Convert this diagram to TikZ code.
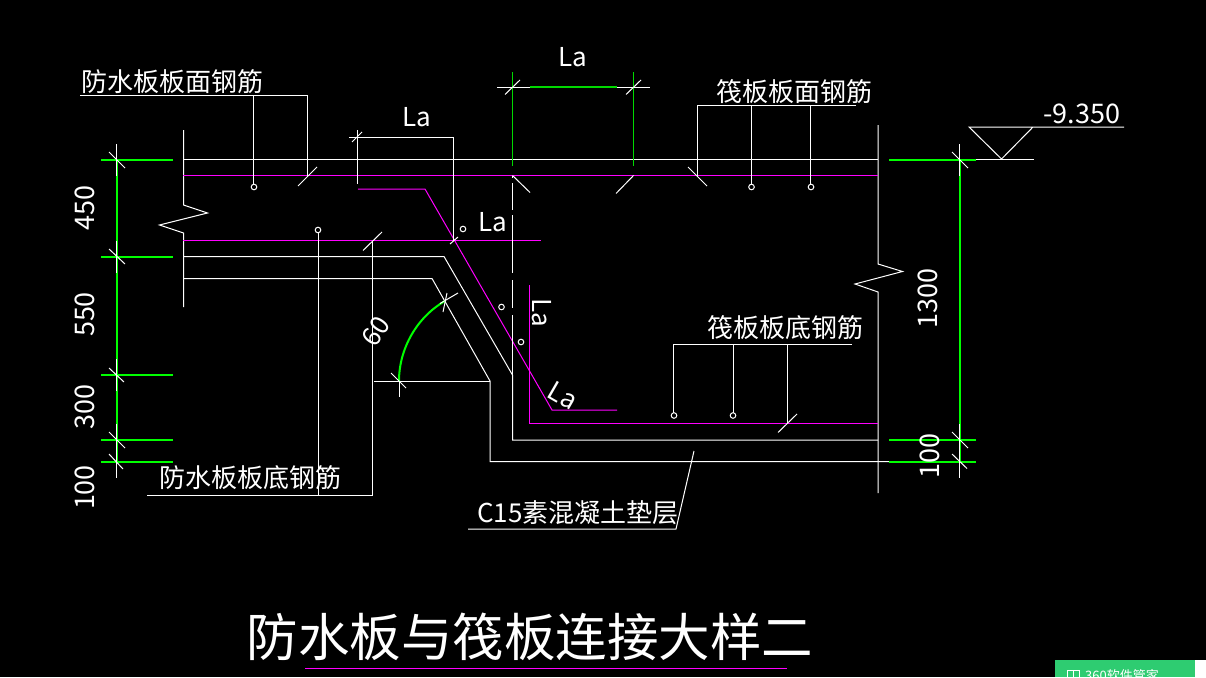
\documentclass[tikz,border=0pt]{standalone}
\usepackage{fontspec}
\setmainfont{Noto Sans CJK SC}
\definecolor{cadmagenta}{RGB}{255,0,255}
\definecolor{cadgreen}{RGB}{0,255,0}
\definecolor{badgegreen}{RGB}{46,204,113}
\begin{document}
\begin{tikzpicture}[x=1pt, y=-1pt,
    cadline/.style={draw=white, line width=1pt},
    rebar/.style={draw=cadmagenta, line width=1pt},
    dimgreen/.style={draw=cadgreen, line width=2pt},
    thingreen/.style={draw=cadgreen!85!black, line width=1.2pt},
    cadtext/.style={text=white, inner sep=0pt, font=\fontsize{26}{26}\selectfont},
    bartext/.style={cadtext, font=\fontsize{27}{27}\selectfont}]
      \useasboundingbox (0,0) rectangle (1206,677);
      \fill[black] (0,0) rectangle (1206,677);

      % Raft and waterproof slab outline
      \draw[cadline] (183.5,130) -- (183.5,205) -- (207.5,213) -- (159.5,225) -- (183.5,233) -- (183.5,307);
      \draw[cadline] (878,125) -- (878,264) -- (902.5,271.5) -- (855,284) -- (878,292) -- (878,493);
      \draw[cadline] (183,159) -- (878,159);
      \draw[cadline] (183,256.5) -- (444,256.5) -- (512.5,375) -- (512.5,440) -- (878,440);
      \draw[cadline] (183,278.5) -- (432,278.5) -- (490,381) -- (490,461.5) -- (889,461.5);
      \draw[cadline] (374,381) -- (490,381);

      % Rebar
      \draw[rebar] (183,175.5) -- (878,175.5);
      \draw[rebar] (183,240.5) -- (541,240.5);
      \draw[rebar] (358,189) -- (425,189) -- (552,410) -- (617,410);
      \draw[rebar] (529.5,285) -- (529.5,423.5) -- (878,423.5);

      % Centre line
      \draw[cadline] (512.5,176) -- (512.5,178) (512.5,183) -- (512.5,210) (512.5,215) -- (512.5,273)
        (512.5,280) -- (512.5,308) (512.5,315) -- (512.5,375);
      \draw[cadline] (512.5,175.5) -- (530,192.5);
      \draw[cadline] (633.5,175.5) -- (616,193.5);

      % Top La dimension
      \draw[cadline] (497,87) -- (650,87);
      \draw[thingreen] (530,87) -- (617,87);
      \draw[thingreen] (512.5,72) -- (512.5,165.5);
      \draw[thingreen] (633.5,72) -- (633.5,165.5);
      \draw[cadline] (505,94.5) -- (520,80);
      \draw[cadline] (626,94.5) -- (641,80);
      \node[cadtext] (laTop) at (572.5,57) {La};

      % Left La dimension
      \draw[cadline] (349,137.5) -- (453,137.5) -- (453,240.5);
      \draw[cadline] (357,130) -- (357,184);
      \draw[cadline] (352,142) -- (362,132);
      \draw[cadline] (450,244) -- (458,237);
      \node[cadtext] (laLeft) at (417,117) {La};
      \node[cadtext] (laMiddle) at (492.5,222) {La};
      \node[cadtext, rotate=-90] (laUpright) at (541.5,313) {La};
      \node[cadtext, rotate=-30] (laSloped) at (563,396) {La};

      % Small circles
      \draw[cadline] (463,229) circle (2.8);
      \draw[cadline] (501.5,307) circle (2.8);
      \draw[cadline] (521,342) circle (2.8);

      % 60 degree angle
      \draw[dimgreen] (399,381) .. controls (399,348.5) and (417,317) .. (445,301);
      \draw[cadline] (399,381) -- (399,396.5);
      \draw[cadline] (391,373) -- (406,388);
      \draw[cadline] (440,303.5) -- (458,293);
      \draw[cadline] (447,293) -- (443,312);
      \node[cadtext, rotate=56] (angleText) at (376,331) {60};

      % Left dimensions
      \draw[dimgreen] (117,160) -- (117,462);
      \draw[dimgreen] (101,160) -- (173,160);
      \draw[dimgreen] (101,257) -- (173,257);
      \draw[dimgreen] (101,375) -- (173,375);
      \draw[dimgreen] (101,440) -- (173,440);
      \draw[dimgreen] (101,462) -- (173,462);
      \draw[cadline] (116.5,144) -- (116.5,176);
      \draw[cadline] (116.5,241) -- (116.5,273);
      \draw[cadline] (116.5,359) -- (116.5,391);
      \draw[cadline] (116.5,424) -- (116.5,456);
      \draw[cadline] (116.5,446) -- (116.5,477.5);
      \draw[cadline] (109,152) -- (125,168);
      \draw[cadline] (109,249) -- (125,264);
      \draw[cadline] (109,368) -- (124,382);
      \draw[cadline] (109,432) -- (125,448);
      \draw[cadline] (109,454) -- (123,469);
      \node[bartext, rotate=90] (dimFour) at (84.5,208) {450};
      \node[bartext, rotate=90] (dimFive) at (84.5,314.5) {550};
      \node[bartext, rotate=90] (dimThree) at (84.5,407) {300};
      \node[bartext, rotate=90] (dimOne) at (84.5,487.5) {100};

      % Right dimensions
      \draw[dimgreen] (960,160) -- (960,462);
      \draw[dimgreen] (889,160) -- (976,160);
      \draw[dimgreen] (889,440) -- (976,440);
      \draw[dimgreen] (889,462) -- (976,462);
      \draw[cadline] (959.5,144) -- (959.5,176);
      \draw[cadline] (959.5,424) -- (959.5,456);
      \draw[cadline] (959.5,446) -- (959.5,477.5);
      \draw[cadline] (952,152) -- (968,168);
      \draw[cadline] (952,432) -- (968,448);
      \draw[cadline] (952,454) -- (967,468.5);
      \node[bartext, rotate=90] (dimRaft) at (928,298.5) {1300};
      \node[bartext, rotate=90] (dimPad) at (930,456) {100};

      % Level mark
      \draw[cadline] (976,159) -- (1034,159);
      \draw[cadline] (1124,127) -- (969,127) -- (1001.5,159) -- (1033,127);
      \node[bartext] (levelText) at (1082,114) {-9.350};

      % Waterproof slab top bars
      \draw[cadline] (80,95) -- (307,95) -- (307,176);
      \draw[cadline] (253.5,95) -- (253.5,184);
      \draw[cadline] (298,186) -- (317,167);
      \draw[cadline] (254,187) circle (2.8);
      \node[cadtext] (slabTopLabel) at (172,82) {防水板板面钢筋};

      % Waterproof slab bottom bars
      \draw[cadline] (147,495) -- (372.5,495) -- (372.5,240.5);
      \draw[cadline] (318,233) -- (318,495);
      \draw[cadline] (363,250.5) -- (382,232);
      \draw[cadline] (318,230) circle (2.8);
      \node[cadtext] (slabBottomLabel) at (250,478) {防水板板底钢筋};

      % Raft top bars
      \draw[cadline] (856,105) -- (697,105) -- (697,176);
      \draw[cadline] (751.5,105) -- (751.5,184);
      \draw[cadline] (810.5,105) -- (810.5,184);
      \draw[cadline] (688,167) -- (707,186);
      \draw[cadline] (751.5,187) circle (2.8);
      \draw[cadline] (811,187) circle (2.8);
      \node[cadtext] (raftTopLabel) at (794,92) {筏板板面钢筋};

      % Raft bottom bars
      \draw[cadline] (852,344.5) -- (673.5,344.5) -- (673.5,412.5);
      \draw[cadline] (733,344.5) -- (733,412.5);
      \draw[cadline] (787.5,344.5) -- (787.5,423.5);
      \draw[cadline] (778,432.5) -- (797,414);
      \draw[cadline] (674,415.5) circle (2.8);
      \draw[cadline] (733,415.5) circle (2.8);
      \node[cadtext] (raftBottomLabel) at (785,328) {筏板板底钢筋};

      % Concrete pad
      \draw[cadline] (468,529) -- (676,529) -- (694,451);
      \node[cadtext] (padLabel) at (578,513) {C15素混凝土垫层};

      % Title
      \draw[rebar] (305,668) -- (787,668);
      \node[text=white, inner sep=0pt, font=\fontsize{51.5}{52}\selectfont] (titleText) at (530,637) {防水板与筏板连接大样二};

      % Corner badge
      \fill[white] (1195,660) rectangle (1206,677);
      \fill[badgegreen] (1055,660) rectangle (1195,677);
      \begin{scope}
        \clip (1055,660) rectangle (1195,677);
        \draw[white, line width=0.8pt] (1067,670) rectangle (1073,677) (1073,670) rectangle (1079,677);
        \node[text=white, inner sep=0pt, anchor=west, font=\fontsize{13}{13}\selectfont] (badgeText) at (1085,675.5) {360软件管家};
      \end{scope}
    \end{tikzpicture}
\end{document}
